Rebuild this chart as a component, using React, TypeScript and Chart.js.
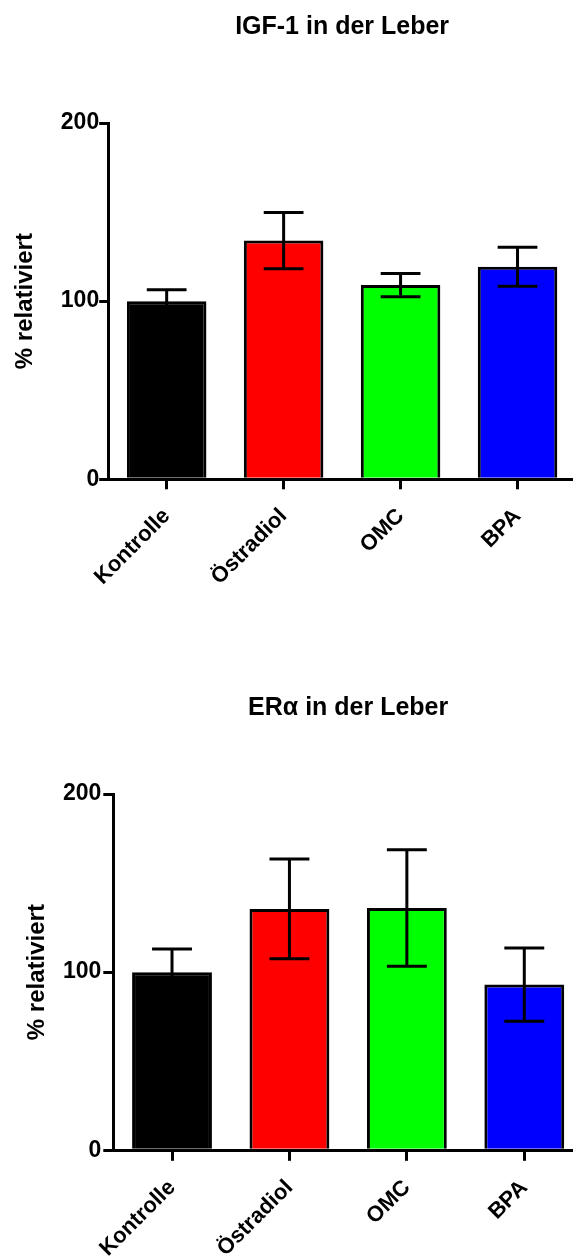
import { useEffect, useRef } from "react";
import { Chart, registerables } from "chart.js";

Chart.register(...registerables);

// Treatment groups and their fill colours
const groups = ["Kontrolle", "Östradiol", "OMC", "BPA"];
const barColors = ["#000000", "#FF0000", "#00FF00", "#0000FF"];
const yTicks = [0, 100, 200];

// IGF-1 expression in liver, % of control (mean ± SEM)
const igfMean = [100, 134, 109, 119.3];
const igfSem = [6.4, 15.8, 6.5, 11];

// ERα expression in liver, % of control (mean ± SEM)
const eraMean = [100, 135.5, 136, 93];
const eraSem = [13, 28, 32.7, 20.5];

const FONT = "'Liberation Sans', Arial, Helvetica, sans-serif";

// Draws symmetric error bars (whiskers with caps) on top of every bar
const errorBarPlugin = {
  id: "errorBars",
  afterDatasetsDraw(chart: any, _args: any, opts: any) {
    const sem: number[] = opts.sem || [];
    const meta = chart.getDatasetMeta(0);
    const yScale = chart.scales.y;
    const values = chart.data.datasets[0].data as number[];
    const ctx = chart.ctx;
    ctx.save();
    ctx.strokeStyle = "#000000";
    ctx.lineWidth = 3;
    ctx.lineCap = "butt";
    meta.data.forEach((bar: any, i: number) => {
      const hi = yScale.getPixelForValue(values[i] + sem[i]);
      const lo = yScale.getPixelForValue(values[i] - sem[i]);
      const half = bar.width * 0.25;
      ctx.beginPath();
      ctx.moveTo(bar.x, hi);
      ctx.lineTo(bar.x, lo);
      ctx.moveTo(bar.x - half, hi);
      ctx.lineTo(bar.x + half, hi);
      ctx.moveTo(bar.x - half, lo);
      ctx.lineTo(bar.x + half, lo);
      ctx.stroke();
    });
    ctx.restore();
  },
};

type PanelProps = {
  title: string;
  mean: number[];
  sem: number[];
  top: number;
  width: number;
  height: number;
  axisLeft: number;
  areaTop: number;
  areaBottom: number;
  titleCenter: number;
  yTitlePad: number;
  yTickLen: number;
  yTickPad: number;
  xTickLen: number;
  xLabelPad: number;
};

function BarPanel(p: PanelProps) {
  const ref = useRef<HTMLCanvasElement | null>(null);

  useEffect(() => {
    if (!ref.current) return;
    const titleLine = 25 * 1.2;
    const titlePadTop = p.titleCenter - titleLine / 2;
    const titlePadBottom = p.areaTop - titlePadTop - titleLine;
    const chart = new Chart(ref.current, {
      type: "bar",
      data: {
        labels: groups,
        datasets: [
          {
            data: p.mean,
            backgroundColor: barColors,
            borderColor: "#000000",
            borderWidth: 3,
            categoryPercentage: 1,
            barPercentage: 0.68,
          },
        ],
      },
      options: {
        responsive: false,
        animation: false,
        devicePixelRatio: 1,
        layout: { padding: 0 },
        plugins: {
          legend: { display: false },
          tooltip: { enabled: false },
          title: {
            display: true,
            text: p.title,
            fullSize: false,
            color: "#000000",
            font: { family: FONT, size: 25, weight: "bold", lineHeight: 1.2 },
            padding: { top: titlePadTop, bottom: titlePadBottom },
          },
          errorBars: { sem: p.sem },
        } as any,
        scales: {
          x: {
            z: 1,
            offset: true,
            grid: {
              display: true,
              offset: false,
              drawOnChartArea: false,
              drawTicks: true,
              tickLength: p.xTickLen,
              color: "#000000",
              lineWidth: 3,
            },
            border: { display: true, color: "#000000", width: 3 },
            ticks: {
              color: "#000000",
              autoSkip: false,
              minRotation: 45,
              maxRotation: 45,
              padding: p.xLabelPad,
              font: { family: FONT, size: 22, weight: "bold" },
            },
            afterFit: (s: any) => {
              s.height = p.height - p.areaBottom;
            },
          },
          y: {
            z: 1,
            min: 0,
            max: 200,
            afterBuildTicks: (s: any) => {
              s.ticks = yTicks.map((v) => ({ value: v }));
            },
            grid: {
              display: true,
              drawOnChartArea: false,
              drawTicks: true,
              tickLength: p.yTickLen,
              color: "#000000",
              lineWidth: 3,
            },
            border: { display: true, color: "#000000", width: 3 },
            ticks: {
              color: "#000000",
              padding: p.yTickPad,
              font: { family: FONT, size: 23, weight: "bold" },
            },
            title: {
              display: true,
              text: "% relativiert",
              color: "#000000",
              font: { family: FONT, size: 24, weight: "bold", lineHeight: 1.2 },
              padding: { top: p.yTitlePad, bottom: 0 },
            },
            afterFit: (s: any) => {
              s.width = p.axisLeft;
            },
          },
        },
      },
      plugins: [errorBarPlugin],
    } as any);
    return () => chart.destroy();
  }, []);

  return (
    <canvas
      ref={ref}
      width={p.width}
      height={p.height}
      style={{
        position: "absolute",
        left: 0,
        top: p.top,
        width: p.width,
        height: p.height,
      }}
    />
  );
}

export default function App() {
  return (
    <div
      style={{
        position: "absolute",
        left: 0,
        top: 0,
        width: 573,
        height: 1259,
        overflow: "hidden",
        background: "#ffffff",
      }}
    >
      <BarPanel
        title="IGF-1 in der Leber"
        mean={igfMean}
        sem={igfSem}
        top={0}
        width={576}
        height={640}
        axisLeft={108.2}
        areaTop={123}
        areaBottom={479.3}
        titleCenter={27}
        yTitlePad={11}
        yTickLen={9}
        yTickPad={0}
        xTickLen={10}
        xLabelPad={14}
      />
      <BarPanel
        title="ERα in der Leber"
        mean={eraMean}
        sem={eraSem}
        top={660}
        width={583}
        height={599}
        axisLeft={113.3}
        areaTop={134}
        areaBottom={490.3}
        titleCenter={48.3}
        yTitlePad={22.6}
        yTickLen={10}
        yTickPad={2}
        xTickLen={10.5}
        xLabelPad={14}
      />
    </div>
  );
}
